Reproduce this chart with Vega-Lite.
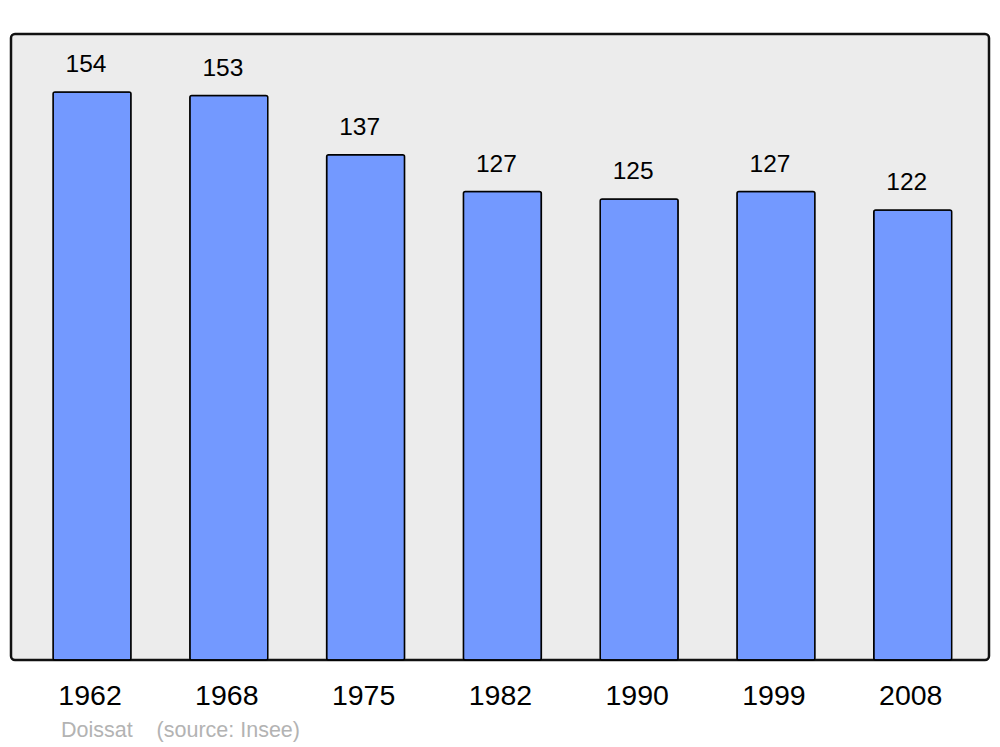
{
  "$schema": "https://vega.github.io/schema/vega-lite/v6.json",
  "autosize": "none",
  "width": 978,
  "height": 626,
  "padding": {"left": 11, "top": 34, "right": 11, "bottom": 87},
  "background": "white",
  "config": {
    "font": "Liberation Sans",
    "view": {"fill": "#ececec", "stroke": "#111111", "strokeWidth": 2.5, "cornerRadius": 4}
  },
  "title": {
    "text": "Doissat\u00a0\u00a0\u00a0\u00a0(source: Insee)",
    "orient": "bottom",
    "anchor": "start",
    "dx": 50,
    "offset": 10,
    "fontSize": 21.5,
    "fontWeight": "normal",
    "color": "#b3b3b3",
    "font": "Liberation Sans"
  },
  "data": {
    "values": [
      {"year": "1962", "pop": 154},
      {"year": "1968", "pop": 153},
      {"year": "1975", "pop": 137},
      {"year": "1982", "pop": 127},
      {"year": "1990", "pop": 125},
      {"year": "1999", "pop": 127},
      {"year": "2008", "pop": 122}
    ]
  },
  "encoding": {
    "x": {
      "field": "year",
      "type": "nominal",
      "sort": null,
      "scale": {"paddingInner": 0.43, "paddingOuter": 0.29, "align": 0.53},
      "axis": {"title": null, "labelAngle": 0, "domain": false, "ticks": false, "grid": false, "labelFontSize": 28.5, "labelColor": "#000000", "labelPadding": 21, "labelOffset": -2, "labelFont": "Liberation Sans"}
    },
    "y": {
      "field": "pop",
      "type": "quantitative",
      "scale": {"domain": [0, 169.7], "nice": false, "zero": true},
      "axis": null
    }
  },
  "layer": [
    {
      "mark": {"type": "bar", "fill": "#7399ff", "stroke": "#000000", "strokeWidth": 1.5, "cornerRadius": 2}
    },
    {
      "mark": {"type": "text", "fontSize": 24.5, "dy": -27, "dx": -6, "color": "#000000", "font": "Liberation Sans", "baseline": "middle"},
      "encoding": {"text": {"field": "pop", "type": "quantitative"}}
    }
  ]
}
